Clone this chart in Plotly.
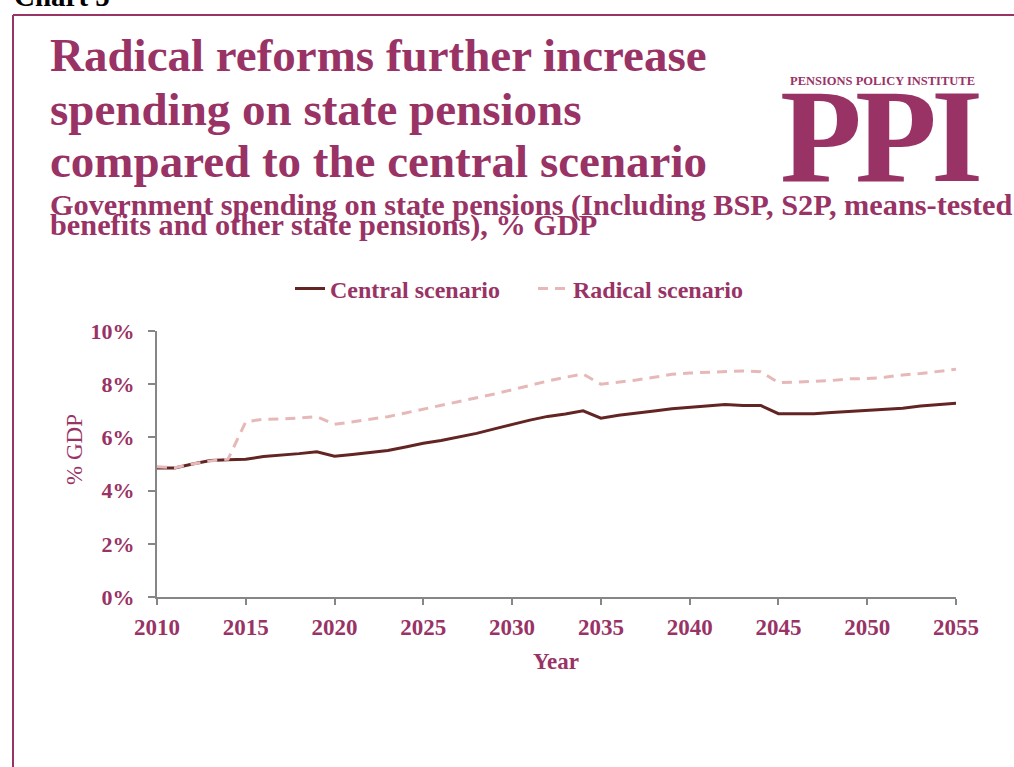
import plotly.graph_objects as go

# ---- data -------------------------------------------------------------
years = list(range(2010, 2056))

central_scenario = [
    4.85, 4.85, 5.00, 5.13, 5.16, 5.18, 5.28, 5.33, 5.39, 5.46,
    5.29, 5.36, 5.44, 5.51, 5.64, 5.78, 5.88, 6.02, 6.15, 6.32,
    6.49, 6.65, 6.79, 6.88, 7.00, 6.72, 6.83, 6.90, 6.99, 7.08,
    7.14, 7.18, 7.24, 7.20, 7.20, 6.89, 6.89, 6.89, 6.94, 6.98,
    7.02, 7.06, 7.10, 7.18, 7.24, 7.28,
]

radical_scenario = [
    4.90, 4.86, 5.00, 5.11, 5.18, 6.59, 6.68, 6.69, 6.73, 6.78,
    6.49, 6.59, 6.67, 6.78, 6.92, 7.06, 7.19, 7.34, 7.49, 7.63,
    7.79, 7.96, 8.12, 8.26, 8.38, 8.00, 8.07, 8.16, 8.26, 8.37,
    8.42, 8.45, 8.47, 8.50, 8.47, 8.06, 8.08, 8.11, 8.14, 8.20,
    8.21, 8.26, 8.35, 8.40, 8.47, 8.56,
]

x_ticks = [2010, 2015, 2020, 2025, 2030, 2035, 2040, 2045, 2050, 2055]
y_ticks = [0, 2, 4, 6, 8, 10]
y_tick_labels = ["0%", "2%", "4%", "6%", "8%", "10%"]

# ---- styling ------------------------------------------------------------
PPI = "#993366"
CENTRAL = "#632523"
RADICAL = "#E6B9B8"
AXIS = "#868686"
SERIF = "Liberation Serif"

W, H = 1014, 767
PL, PR, PT, PB = 157, 956, 331, 597  # plot area in pixels


def px_x(x):
    return (x - PL) / (PR - PL)


def px_y(y):
    return (PB - y) / (PB - PT)


fig = go.Figure()
fig.add_trace(go.Scatter(
    x=years, y=central_scenario, mode="lines", name="Central scenario",
    line=dict(color=CENTRAL, width=3),
))
fig.add_trace(go.Scatter(
    x=years, y=radical_scenario, mode="lines", name="Radical scenario",
    line=dict(color=RADICAL, width=3, dash="10px,7px"),
))


def text(s, x, y, size, color=PPI, bold=True, xanchor="left", angle=0):
    fig.add_annotation(
        text=s, x=px_x(x), y=px_y(y), xref="paper", yref="paper",
        xanchor=xanchor, yanchor="middle", showarrow=False, textangle=angle,
        font=dict(family=SERIF, size=size, color=color,
                  weight="bold" if bold else "normal"),
    )


# chart number (runs off the top edge)
text("Chart 5", 12, 6 - 0.34 * 29, 29, color="black")

# headline
text("Radical reforms further increase", 48, 71 - 0.34 * 47, 47)
text("spending on state pensions", 48, 125 - 0.34 * 47, 47)
text("compared to the central scenario", 48, 177 - 0.34 * 47, 47)

# subtitle
text("Government spending on state pensions (Including BSP, S2P, means-tested",
     48, 215 - 0.34 * 30.3, 30.3)
text("benefits and other state pensions), % GDP", 48, 235 - 0.34 * 30.3, 30.3)

# logo
text("PENSIONS POLICY INSTITUTE", 882, 85 - 0.34 * 12.5, 12.5, xanchor="center")
for letter, cx in (("P", 821), ("P", 896), ("I", 957)):
    text(letter, cx, 182 - 0.34 * 134, 134, xanchor="center")

# axis titles
text("% GDP", 74, 450, 23, bold=False, xanchor="center", angle=-90)
text("Year", 556, 661, 23, xanchor="center")

# frame
fig.add_shape(type="line", xref="paper", yref="paper",
              x0=px_x(13), x1=px_x(1030), y0=px_y(15), y1=px_y(15),
              line=dict(color=PPI, width=2))
fig.add_shape(type="line", xref="paper", yref="paper",
              x0=px_x(13), x1=px_x(13), y0=px_y(15), y1=px_y(780),
              line=dict(color=PPI, width=2))

tickfont = dict(family=SERIF, size=23, color=PPI, weight="bold")

fig.update_xaxes(
    range=[2010, 2055], tickvals=x_ticks, ticks="outside", ticklen=6,
    tickcolor=AXIS, tickwidth=1.5, showline=True, linecolor=AXIS, linewidth=2,
    showgrid=False, zeroline=False, tickfont=tickfont, ticklabelstandoff=2,
)
fig.update_yaxes(
    range=[0, 10], tickvals=y_ticks, ticktext=y_tick_labels, ticks="outside",
    ticklen=7, tickcolor=AXIS, tickwidth=1.5, showline=True, linecolor=AXIS,
    linewidth=2, showgrid=False, zeroline=False,
    tickfont=dict(tickfont, size=22), ticklabelstandoff=9,
)

fig.update_layout(
    width=W, height=H, autosize=False,
    margin=dict(l=PL, r=W - PR, t=PT, b=H - PB, pad=0),
    paper_bgcolor="white", plot_bgcolor="white",
    showlegend=True,
    legend=dict(
        orientation="h", x=px_x(290), xanchor="left", y=px_y(289),
        yanchor="middle", font=dict(family=SERIF, size=24, color=PPI, weight="bold"),
        bgcolor="rgba(0,0,0,0)", entrywidth=198, entrywidthmode="pixels",
        traceorder="normal",
    ),
)

fig.write_html("out.html")
